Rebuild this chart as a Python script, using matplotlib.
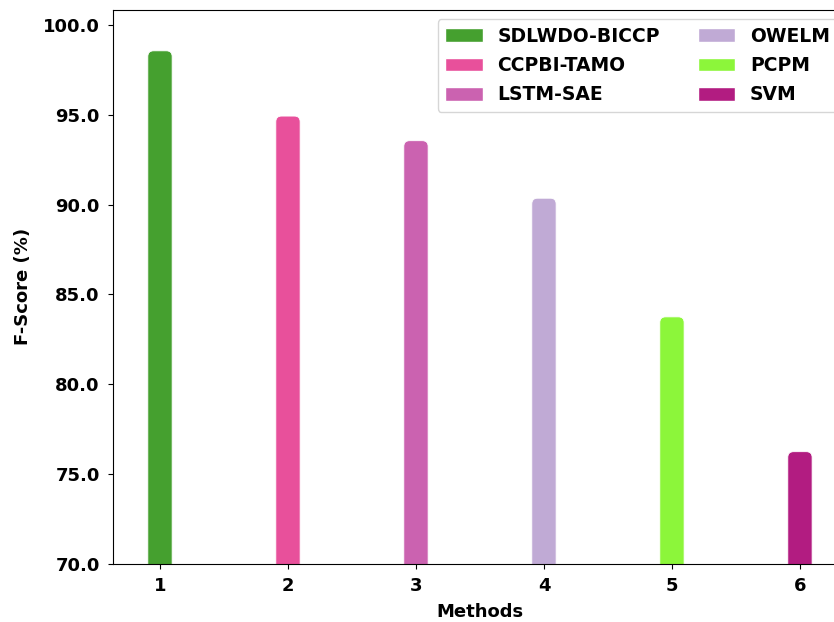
import matplotlib.pyplot as plt
from matplotlib.patches import FancyBboxPatch, Patch

methods = ["SDLWDO-BICCP", "CCPBI-TAMO", "LSTM-SAE", "OWELM", "PCPM", "SVM"]
positions = [1, 2, 3, 4, 5, 6]
fscore = [98.55, 94.92, 93.55, 90.35, 83.75, 76.25]
colors = ["#45a02f", "#e8509b", "#cb62b0", "#c0aad5", "#8cf63a", "#b21c81"]

fig = plt.figure(figsize=(8.34, 6.22), dpi=100)
ax = fig.add_axes([0.1355, 0.0932, 0.880, 0.891])

bars = ax.bar(positions, fscore, width=0.19, color=colors)

# swap plain rectangles for ones with rounded tops
for rect, c in zip(bars, colors):
    x, y = rect.get_x(), rect.get_y()
    w, h = rect.get_width(), rect.get_height()
    rect.set_visible(False)
    pad = 0.045
    rb = FancyBboxPatch((x + pad, y), w - 2 * pad, h - pad * 7.1,
                        boxstyle=f"round,pad={pad}", mutation_aspect=7.1,
                        facecolor=c, edgecolor="white", linewidth=0.6)
    ax.add_patch(rb)

ax.set_xlim(0.633, 6.367)
ax.set_ylim(70, 100.83)
ax.set_xticks(positions)
ax.set_yticks([70, 75, 80, 85, 90, 95, 100])
ax.set_yticklabels([f"{v:.1f}" for v in [70, 75, 80, 85, 90, 95, 100]])
ax.tick_params(labelsize=13)
ax.tick_params(axis="y", pad=6)
ax.tick_params(axis="x", pad=5.5)
for lbl in ax.get_xticklabels() + ax.get_yticklabels():
    lbl.set_fontweight("bold")

ax.set_xlabel("Methods", fontsize=13, fontweight="bold", labelpad=6)
ax.set_ylabel("F-Score (%)", fontsize=13, fontweight="bold", labelpad=8)

handles = [Patch(facecolor=c, edgecolor="white", label=m) for m, c in zip(methods, colors)]
ax.legend(handles=handles, ncol=2, loc="upper right",
          prop={"weight": "bold", "size": 13.5}, handleheight=0.75,
          labelspacing=0.55)

fig.savefig("out.png", dpi=100)
